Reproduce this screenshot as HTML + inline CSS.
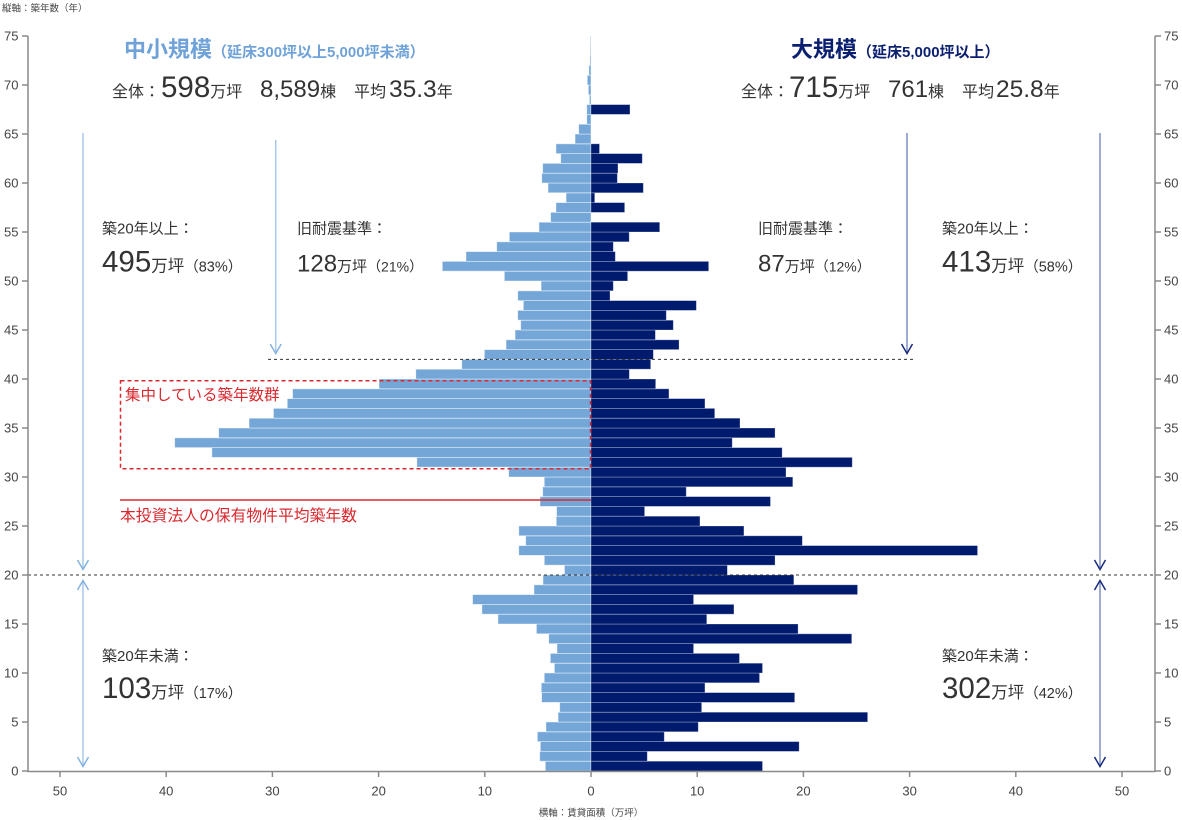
<!DOCTYPE html>
<html>
<head>
<meta charset="utf-8">
<style>
html,body{margin:0;padding:0;background:#fff;}
svg{display:block;font-family:"Liberation Sans","Noto Sans CJK JP",sans-serif;}
.b rect{vector-effect:non-scaling-stroke;}
</style>
</head>
<body>
<svg width="1182" height="820" viewBox="0 0 1182 820" xmlns="http://www.w3.org/2000/svg">
<rect x="0" y="0" width="1182" height="820" fill="#fff"/>

<!-- axis captions -->
<text x="2" y="11.5" font-size="9.5" fill="#444">縦軸：築年数（年）</text>
<text x="591" y="816" font-size="9.5" fill="#444" text-anchor="middle">横軸：賃貸面積（万坪）</text>

<!-- left bars (small/mid) -->
<g class="b" transform="translate(591,771) scale(-10.62,-9.8)" fill="#74a6d8" stroke="#ffffff" stroke-opacity="0.55" stroke-width="0.8">
<rect x="0" y="0" width="4.3" height="1"/>
<rect x="0" y="1" width="4.83" height="1"/>
<rect x="0" y="2" width="4.77" height="1"/>
<rect x="0" y="3" width="5.05" height="1"/>
<rect x="0" y="4" width="4.24" height="1"/>
<rect x="0" y="5" width="3.1" height="1"/>
<rect x="0" y="6" width="2.95" height="1"/>
<rect x="0" y="7" width="4.65" height="1"/>
<rect x="0" y="8" width="4.68" height="1"/>
<rect x="0" y="9" width="4.4" height="1"/>
<rect x="0" y="10" width="3.45" height="1"/>
<rect x="0" y="11" width="3.83" height="1"/>
<rect x="0" y="12" width="3.2" height="1"/>
<rect x="0" y="13" width="3.98" height="1"/>
<rect x="0" y="14" width="5.14" height="1"/>
<rect x="0" y="15" width="8.76" height="1"/>
<rect x="0" y="16" width="10.27" height="1"/>
<rect x="0" y="17" width="11.15" height="1"/>
<rect x="0" y="18" width="5.37" height="1"/>
<rect x="0" y="19" width="4.52" height="1"/>
<rect x="0" y="20" width="2.5" height="1"/>
<rect x="0" y="21" width="4.4" height="1"/>
<rect x="0" y="22" width="6.8" height="1"/>
<rect x="0" y="23" width="6.15" height="1"/>
<rect x="0" y="24" width="6.8" height="1"/>
<rect x="0" y="25" width="3.27" height="1"/>
<rect x="0" y="26" width="3.24" height="1"/>
<rect x="0" y="27" width="4.8" height="1"/>
<rect x="0" y="28" width="4.55" height="1"/>
<rect x="0" y="29" width="4.4" height="1"/>
<rect x="0" y="30" width="7.75" height="1"/>
<rect x="0" y="31" width="16.4" height="1"/>
<rect x="0" y="32" width="35.7" height="1"/>
<rect x="0" y="33" width="39.2" height="1"/>
<rect x="0" y="34" width="35.06" height="1"/>
<rect x="0" y="35" width="32.2" height="1"/>
<rect x="0" y="36" width="29.9" height="1"/>
<rect x="0" y="37" width="28.6" height="1"/>
<rect x="0" y="38" width="28.1" height="1"/>
<rect x="0" y="39" width="19.96" height="1"/>
<rect x="0" y="40" width="16.5" height="1"/>
<rect x="0" y="41" width="12.17" height="1"/>
<rect x="0" y="42" width="10.04" height="1"/>
<rect x="0" y="43" width="8.0" height="1"/>
<rect x="0" y="44" width="7.15" height="1"/>
<rect x="0" y="45" width="6.62" height="1"/>
<rect x="0" y="46" width="6.9" height="1"/>
<rect x="0" y="47" width="6.37" height="1"/>
<rect x="0" y="48" width="6.9" height="1"/>
<rect x="0" y="49" width="4.7" height="1"/>
<rect x="0" y="50" width="8.16" height="1"/>
<rect x="0" y="51" width="14.0" height="1"/>
<rect x="0" y="52" width="11.77" height="1"/>
<rect x="0" y="53" width="8.88" height="1"/>
<rect x="0" y="54" width="7.69" height="1"/>
<rect x="0" y="55" width="4.9" height="1"/>
<rect x="0" y="56" width="3.8" height="1"/>
<rect x="0" y="57" width="3.3" height="1"/>
<rect x="0" y="58" width="2.35" height="1"/>
<rect x="0" y="59" width="4.05" height="1"/>
<rect x="0" y="60" width="4.64" height="1"/>
<rect x="0" y="61" width="4.55" height="1"/>
<rect x="0" y="62" width="2.85" height="1"/>
<rect x="0" y="63" width="3.3" height="1"/>
<rect x="0" y="64" width="1.5" height="1"/>
<rect x="0" y="65" width="1.16" height="1"/>
<rect x="0" y="66" width="0.4" height="1"/>
<rect x="0" y="67" width="0.4" height="1"/>
<rect x="0" y="68" width="0.15" height="1"/>
<rect x="0" y="69" width="0.25" height="1"/>
<rect x="0" y="70" width="0.35" height="1"/>
<rect x="0" y="71" width="0.2" height="1"/>
<rect x="0" y="72" width="0.1" height="1"/>
<rect x="0" y="73" width="0.08" height="1"/>
<rect x="0" y="74" width="0.06" height="1"/>
</g>

<!-- right bars (large) -->
<g class="b" transform="translate(591,771) scale(10.62,-9.8)" fill="#001a6e" stroke="#ffffff" stroke-opacity="0.35" stroke-width="0.8">
<rect x="0" y="0" width="16.15" height="1"/>
<rect x="0" y="1" width="5.3" height="1"/>
<rect x="0" y="2" width="19.6" height="1"/>
<rect x="0" y="3" width="6.9" height="1"/>
<rect x="0" y="4" width="10.1" height="1"/>
<rect x="0" y="5" width="26.05" height="1"/>
<rect x="0" y="6" width="10.42" height="1"/>
<rect x="0" y="7" width="19.18" height="1"/>
<rect x="0" y="8" width="10.73" height="1"/>
<rect x="0" y="9" width="15.87" height="1"/>
<rect x="0" y="10" width="16.15" height="1"/>
<rect x="0" y="11" width="13.98" height="1"/>
<rect x="0" y="12" width="9.66" height="1"/>
<rect x="0" y="13" width="24.55" height="1"/>
<rect x="0" y="14" width="19.5" height="1"/>
<rect x="0" y="15" width="10.9" height="1"/>
<rect x="0" y="16" width="13.46" height="1"/>
<rect x="0" y="17" width="9.66" height="1"/>
<rect x="0" y="18" width="25.1" height="1"/>
<rect x="0" y="19" width="19.1" height="1"/>
<rect x="0" y="20" width="12.84" height="1"/>
<rect x="0" y="21" width="17.33" height="1"/>
<rect x="0" y="22" width="36.4" height="1"/>
<rect x="0" y="23" width="19.9" height="1"/>
<rect x="0" y="24" width="14.4" height="1"/>
<rect x="0" y="25" width="10.26" height="1"/>
<rect x="0" y="26" width="5.05" height="1"/>
<rect x="0" y="27" width="16.9" height="1"/>
<rect x="0" y="28" width="8.97" height="1"/>
<rect x="0" y="29" width="19.0" height="1"/>
<rect x="0" y="30" width="18.36" height="1"/>
<rect x="0" y="31" width="24.6" height="1"/>
<rect x="0" y="32" width="18.0" height="1"/>
<rect x="0" y="33" width="13.3" height="1"/>
<rect x="0" y="34" width="17.33" height="1"/>
<rect x="0" y="35" width="14.03" height="1"/>
<rect x="0" y="36" width="11.65" height="1"/>
<rect x="0" y="37" width="10.73" height="1"/>
<rect x="0" y="38" width="7.34" height="1"/>
<rect x="0" y="39" width="6.09" height="1"/>
<rect x="0" y="40" width="3.61" height="1"/>
<rect x="0" y="41" width="5.62" height="1"/>
<rect x="0" y="42" width="5.87" height="1"/>
<rect x="0" y="43" width="8.29" height="1"/>
<rect x="0" y="44" width="6.06" height="1"/>
<rect x="0" y="45" width="7.75" height="1"/>
<rect x="0" y="46" width="7.09" height="1"/>
<rect x="0" y="47" width="9.92" height="1"/>
<rect x="0" y="48" width="1.79" height="1"/>
<rect x="0" y="49" width="2.1" height="1"/>
<rect x="0" y="50" width="3.45" height="1"/>
<rect x="0" y="51" width="11.08" height="1"/>
<rect x="0" y="52" width="2.29" height="1"/>
<rect x="0" y="53" width="2.1" height="1"/>
<rect x="0" y="54" width="3.6" height="1"/>
<rect x="0" y="55" width="6.47" height="1"/>
<rect x="0" y="57" width="3.17" height="1"/>
<rect x="0" y="58" width="0.35" height="1"/>
<rect x="0" y="59" width="4.93" height="1"/>
<rect x="0" y="60" width="2.48" height="1"/>
<rect x="0" y="61" width="2.54" height="1"/>
<rect x="0" y="62" width="4.83" height="1"/>
<rect x="0" y="63" width="0.8" height="1"/>
<rect x="0" y="67" width="3.67" height="1"/>
</g>

<!-- dashed reference lines -->
<line x1="28" y1="575" x2="1155" y2="575" stroke="#333" stroke-width="1" stroke-dasharray="3,3"/>
<line x1="268" y1="359.4" x2="915" y2="359.4" stroke="#333" stroke-width="1" stroke-dasharray="3,3"/>

<!-- red annotations -->
<rect x="120.5" y="380.7" width="470" height="88" fill="none" stroke="#d8292f" stroke-width="1.5" stroke-dasharray="4,3"/>
<text x="125" y="400" font-size="15.5" fill="#d8292f">集中している築年数群</text>
<line x1="120" y1="500" x2="591" y2="500" stroke="#d8292f" stroke-width="1.6"/>
<text x="120" y="521" font-size="15.8" fill="#d8292f">本投資法人の保有物件平均築年数</text>

<!-- axes -->
<g stroke="#8a8a8a" stroke-width="1.5" fill="none">
<line x1="28" y1="36" x2="28" y2="772"/>
<line x1="1155" y1="36" x2="1155" y2="772"/>
<line x1="27.5" y1="771.5" x2="1155.5" y2="771.5"/>
<!-- left ticks -->
<line x1="22" y1="771" x2="28" y2="771"/>
<line x1="22" y1="722" x2="28" y2="722"/>
<line x1="22" y1="673" x2="28" y2="673"/>
<line x1="22" y1="624" x2="28" y2="624"/>
<line x1="22" y1="575" x2="28" y2="575"/>
<line x1="22" y1="526" x2="28" y2="526"/>
<line x1="22" y1="477" x2="28" y2="477"/>
<line x1="22" y1="428" x2="28" y2="428"/>
<line x1="22" y1="379" x2="28" y2="379"/>
<line x1="22" y1="330" x2="28" y2="330"/>
<line x1="22" y1="281" x2="28" y2="281"/>
<line x1="22" y1="232" x2="28" y2="232"/>
<line x1="22" y1="183" x2="28" y2="183"/>
<line x1="22" y1="134" x2="28" y2="134"/>
<line x1="22" y1="85" x2="28" y2="85"/>
<line x1="22" y1="36" x2="28" y2="36"/>
<!-- right ticks -->
<line x1="1155" y1="771" x2="1161" y2="771"/>
<line x1="1155" y1="722" x2="1161" y2="722"/>
<line x1="1155" y1="673" x2="1161" y2="673"/>
<line x1="1155" y1="624" x2="1161" y2="624"/>
<line x1="1155" y1="575" x2="1161" y2="575"/>
<line x1="1155" y1="526" x2="1161" y2="526"/>
<line x1="1155" y1="477" x2="1161" y2="477"/>
<line x1="1155" y1="428" x2="1161" y2="428"/>
<line x1="1155" y1="379" x2="1161" y2="379"/>
<line x1="1155" y1="330" x2="1161" y2="330"/>
<line x1="1155" y1="281" x2="1161" y2="281"/>
<line x1="1155" y1="232" x2="1161" y2="232"/>
<line x1="1155" y1="183" x2="1161" y2="183"/>
<line x1="1155" y1="134" x2="1161" y2="134"/>
<line x1="1155" y1="85" x2="1161" y2="85"/>
<line x1="1155" y1="36" x2="1161" y2="36"/>
<!-- bottom ticks -->
<line x1="60" y1="771" x2="60" y2="777"/>
<line x1="166.2" y1="771" x2="166.2" y2="777"/>
<line x1="272.4" y1="771" x2="272.4" y2="777"/>
<line x1="378.6" y1="771" x2="378.6" y2="777"/>
<line x1="484.8" y1="771" x2="484.8" y2="777"/>
<line x1="591" y1="771" x2="591" y2="777"/>
<line x1="697.2" y1="771" x2="697.2" y2="777"/>
<line x1="803.4" y1="771" x2="803.4" y2="777"/>
<line x1="909.6" y1="771" x2="909.6" y2="777"/>
<line x1="1015.8" y1="771" x2="1015.8" y2="777"/>
<line x1="1122" y1="771" x2="1122" y2="777"/>
</g>

<!-- tick labels -->
<g font-size="13" fill="#444" text-anchor="end" dominant-baseline="central">
<text x="18.5" y="771">0</text>
<text x="18.5" y="722">5</text>
<text x="18.5" y="673">10</text>
<text x="18.5" y="624">15</text>
<text x="18.5" y="575">20</text>
<text x="18.5" y="526">25</text>
<text x="18.5" y="477">30</text>
<text x="18.5" y="428">35</text>
<text x="18.5" y="379">40</text>
<text x="18.5" y="330">45</text>
<text x="18.5" y="281">50</text>
<text x="18.5" y="232">55</text>
<text x="18.5" y="183">60</text>
<text x="18.5" y="134">65</text>
<text x="18.5" y="85">70</text>
<text x="18.5" y="36">75</text>
</g>
<g font-size="13" fill="#444" text-anchor="start" dominant-baseline="central">
<text x="1164" y="771">0</text>
<text x="1164" y="722">5</text>
<text x="1164" y="673">10</text>
<text x="1164" y="624">15</text>
<text x="1164" y="575">20</text>
<text x="1164" y="526">25</text>
<text x="1164" y="477">30</text>
<text x="1164" y="428">35</text>
<text x="1164" y="379">40</text>
<text x="1164" y="330">45</text>
<text x="1164" y="281">50</text>
<text x="1164" y="232">55</text>
<text x="1164" y="183">60</text>
<text x="1164" y="134">65</text>
<text x="1164" y="85">70</text>
<text x="1164" y="36">75</text>
</g>
<g font-size="13" fill="#444" text-anchor="middle" dominant-baseline="central">
<text x="60" y="791">50</text>
<text x="166.2" y="791">40</text>
<text x="272.4" y="791">30</text>
<text x="378.6" y="791">20</text>
<text x="484.8" y="791">10</text>
<text x="591" y="791">0</text>
<text x="697.2" y="791">10</text>
<text x="803.4" y="791">20</text>
<text x="909.6" y="791">30</text>
<text x="1015.8" y="791">40</text>
<text x="1122" y="791">50</text>
</g>

<!-- arrows left (light blue) -->
<g stroke="#a7c7e9" stroke-width="1.5" fill="none">
<line x1="83" y1="133" x2="83" y2="569"/>
<line x1="83" y1="581" x2="83" y2="766"/>
<line x1="275.7" y1="140" x2="275.7" y2="353"/>
</g>
<g stroke="#86b2e0" stroke-width="1.5" fill="none">
<path d="M77.5,560 L83,569.5 L88.5,560"/>
<path d="M77.5,590 L83,580.5 L88.5,590"/>
<path d="M77.5,757 L83,766.5 L88.5,757"/>
<path d="M270.2,344 L275.7,353.5 L281.2,344"/>
</g>

<!-- arrows right (navy) -->
<g stroke="#7f8fc3" stroke-width="1.5" fill="none">
<line x1="907" y1="133" x2="907" y2="353"/>
<line x1="1100" y1="133" x2="1100" y2="569"/>
<line x1="1100" y1="581" x2="1100" y2="766"/>
</g>
<g stroke="#1a2a7e" stroke-width="1.5" fill="none">
<path d="M901.5,344 L907,353.5 L912.5,344"/>
<path d="M1094.5,560 L1100,569.5 L1105.5,560"/>
<path d="M1094.5,590 L1100,580.5 L1105.5,590"/>
<path d="M1094.5,757 L1100,766.5 L1105.5,757"/>
</g>

<!-- headers -->
<text x="124" y="57" fill="#6fa2d8" font-weight="bold"><tspan font-size="22">中小規模</tspan><tspan font-size="15">（延床300坪以上5,000坪未満）</tspan></text>
<text x="791" y="57" fill="#0b1f70" font-weight="bold"><tspan font-size="22">大規模</tspan><tspan font-size="15">（延床5,000坪以上）</tspan></text>

<text y="97" fill="#333" font-size="16"><tspan x="112">全体：</tspan><tspan x="161" font-size="29.5">598</tspan><tspan>万坪</tspan><tspan x="260" font-size="24">8,589</tspan><tspan>棟</tspan><tspan x="354">平均</tspan><tspan x="389" font-size="24.5">35.3</tspan><tspan>年</tspan></text>
<text y="97" fill="#333" font-size="16"><tspan x="741">全体：</tspan><tspan x="789" font-size="29.5">715</tspan><tspan>万坪</tspan><tspan x="888" font-size="24">761</tspan><tspan>棟</tspan><tspan x="962">平均</tspan><tspan x="996" font-size="24.5">25.8</tspan><tspan>年</tspan></text>

<!-- annotations upper -->
<g fill="#333">
<text x="102" y="233.5" font-size="15">築20年以上：</text>
<text x="102" y="271.5"><tspan font-size="29.5">495</tspan><tspan font-size="16.5">万坪</tspan><tspan font-size="14.5">（83%）</tspan></text>
<text x="297" y="233.5" font-size="15">旧耐震基準：</text>
<text x="297" y="271.5"><tspan font-size="24">128</tspan><tspan font-size="15">万坪</tspan><tspan font-size="14">（21%）</tspan></text>
<text x="758" y="233.5" font-size="15">旧耐震基準：</text>
<text x="758" y="271.5"><tspan font-size="24">87</tspan><tspan font-size="15">万坪</tspan><tspan font-size="14">（12%）</tspan></text>
<text x="942" y="233.5" font-size="15">築20年以上：</text>
<text x="942" y="271.5"><tspan font-size="29.5">413</tspan><tspan font-size="16.5">万坪</tspan><tspan font-size="14.5">（58%）</tspan></text>

<text x="102" y="661" font-size="15">築20年未満：</text>
<text x="102" y="698"><tspan font-size="29.5">103</tspan><tspan font-size="16.5">万坪</tspan><tspan font-size="14.5">（17%）</tspan></text>
<text x="942" y="661" font-size="15">築20年未満：</text>
<text x="942" y="698"><tspan font-size="29.5">302</tspan><tspan font-size="16.5">万坪</tspan><tspan font-size="14.5">（42%）</tspan></text>
</g>
</svg>
</body>
</html>
